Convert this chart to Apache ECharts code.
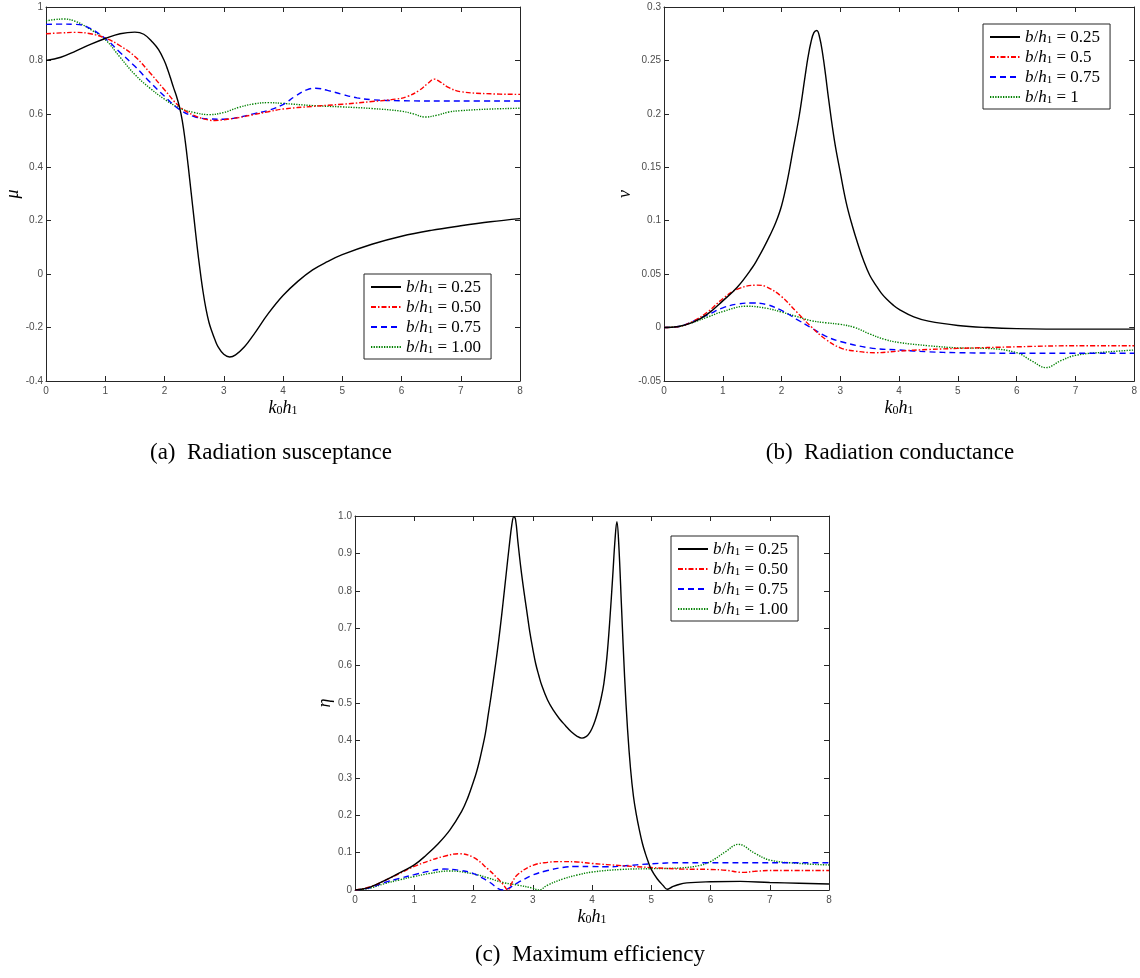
<!DOCTYPE html>
<html>
<head>
<meta charset="utf-8">
<script src="https://cdn.jsdelivr.net/npm/echarts@6/dist/echarts.min.js"></script>
<style>
  body { margin: 0; background: #fff; }
  #main { width: 1140px; height: 978px; }
</style>
</head>
<body>
<div id="main"></div>
<script>
// x axis ticks (k0 h1)
const kTicks = [0, 1, 2, 3, 4, 5, 6, 7, 8];

// (a) radiation susceptance mu, pairs of [k0h1, mu]
const muB025 = [[0,0.8],[0.25,0.812],[0.5,0.835],[0.75,0.86],[1,0.882],[1.25,0.9],[1.5,0.906],[1.65,0.898],[1.8,0.868],[1.9,0.84],[2,0.797],[2.05,0.768],[2.1,0.735],[2.15,0.7],[2.2,0.668],[2.25,0.628],[2.3,0.575],[2.35,0.498],[2.4,0.405],[2.45,0.305],[2.5,0.205],[2.55,0.105],[2.6,0.015],[2.65,-0.065],[2.7,-0.13],[2.75,-0.18],[2.8,-0.215],[2.85,-0.245],[2.9,-0.27],[3,-0.3],[3.1,-0.31],[3.2,-0.302],[3.35,-0.272],[3.5,-0.228],[3.75,-0.148],[4,-0.08],[4.25,-0.027],[4.5,0.016],[4.75,0.047],[5,0.073],[5.5,0.112],[6,0.142],[6.5,0.164],[7,0.181],[7.5,0.196],[8,0.208]];
const muB050 = [[0,0.9],[0.25,0.903],[0.5,0.905],[0.75,0.9],[1,0.884],[1.25,0.855],[1.5,0.815],[1.75,0.755],[2,0.69],[2.25,0.628],[2.5,0.594],[2.75,0.577],[2.85,0.575],[3,0.578],[3.25,0.586],[3.5,0.597],[3.75,0.608],[4,0.618],[4.5,0.628],[5,0.636],[5.5,0.646],[5.9,0.655],[6.1,0.665],[6.3,0.688],[6.45,0.715],[6.55,0.73],[6.65,0.72],[6.8,0.698],[7,0.683],[7.5,0.675],[8,0.673]];
const muB075 = [[0,0.935],[0.25,0.936],[0.5,0.935],[0.7,0.925],[1,0.882],[1.25,0.83],[1.5,0.778],[1.75,0.72],[2,0.666],[2.25,0.617],[2.5,0.59],[2.75,0.581],[3,0.58],[3.25,0.587],[3.5,0.6],[3.75,0.613],[4,0.635],[4.2,0.665],[4.4,0.69],[4.55,0.696],[4.75,0.688],[5,0.673],[5.25,0.66],[5.5,0.653],[6,0.649],[7,0.648],[8,0.648]];
const muB100 = [[0,0.948],[0.15,0.953],[0.3,0.955],[0.5,0.946],[0.75,0.916],[1,0.878],[1.25,0.812],[1.5,0.747],[1.75,0.697],[2,0.655],[2.25,0.622],[2.5,0.605],[2.75,0.597],[3,0.605],[3.25,0.624],[3.5,0.637],[3.75,0.642],[4,0.639],[4.5,0.631],[5,0.626],[5.5,0.62],[6,0.61],[6.2,0.6],[6.4,0.588],[6.6,0.595],[6.8,0.607],[7,0.612],[7.5,0.618],[8,0.621]];

// (b) radiation conductance nu
const nuB025 = [[0,0],[0.25,0.001],[0.5,0.005],[0.75,0.013],[1,0.025],[1.25,0.038],[1.5,0.056],[1.6,0.065],[1.7,0.075],[1.8,0.086],[1.9,0.098],[2,0.114],[2.1,0.138],[2.2,0.168],[2.3,0.198],[2.4,0.235],[2.45,0.253],[2.5,0.267],[2.55,0.276],[2.6,0.278],[2.65,0.271],[2.7,0.256],[2.75,0.236],[2.8,0.214],[2.9,0.175],[3,0.145],[3.1,0.117],[3.2,0.096],[3.3,0.078],[3.4,0.062],[3.5,0.049],[3.6,0.04],[3.7,0.032],[3.8,0.026],[3.9,0.021],[4,0.017],[4.25,0.01],[4.5,0.006],[5,0.002],[5.5,0],[6,-0.001],[7,-0.0015],[8,-0.0015]];
const nuB050 = [[0,0],[0.25,0.001],[0.5,0.006],[0.75,0.015],[1,0.027],[1.25,0.036],[1.58,0.0397],[1.75,0.038],[2,0.029],[2.25,0.015],[2.5,0.001],[2.75,-0.011],[3,-0.019],[3.25,-0.022],[3.6,-0.0235],[4,-0.022],[4.5,-0.0205],[5,-0.0195],[6,-0.018],[7,-0.017],[8,-0.017]];
const nuB075 = [[0,0],[0.25,0.001],[0.5,0.006],[0.75,0.012],[1,0.0185],[1.25,0.022],[1.5,0.023],[1.75,0.0215],[2,0.016],[2.25,0.008],[2.5,0],[2.75,-0.008],[3,-0.013],[3.5,-0.019],[4,-0.021],[4.5,-0.0227],[5,-0.0235],[6,-0.024],[7,-0.024],[8,-0.024]];
const nuB100 = [[0,0],[0.25,0.001],[0.5,0.005],[0.75,0.01],[1,0.015],[1.4,0.02],[1.75,0.018],[2,0.0145],[2.25,0.0105],[2.5,0.0065],[2.75,0.0045],[3,0.003],[3.25,0],[3.5,-0.006],[3.75,-0.011],[4,-0.014],[4.5,-0.017],[5,-0.019],[5.5,-0.0195],[6,-0.0235],[6.25,-0.031],[6.5,-0.0375],[6.75,-0.031],[7,-0.026],[7.5,-0.023],[8,-0.021]];

// (c) maximum efficiency eta
const etaB025 = [[0,0],[0.2,0.005],[0.4,0.018],[0.6,0.033],[0.8,0.05],[1,0.067],[1.2,0.093],[1.4,0.123],[1.6,0.16],[1.8,0.21],[1.9,0.245],[2,0.29],[2.05,0.315],[2.1,0.345],[2.15,0.38],[2.2,0.418],[2.25,0.47],[2.3,0.522],[2.35,0.578],[2.4,0.636],[2.45,0.7],[2.5,0.77],[2.55,0.843],[2.6,0.915],[2.65,0.98],[2.68,0.998],[2.71,0.99],[2.75,0.93],[2.8,0.86],[2.85,0.8],[2.9,0.745],[2.95,0.69],[3,0.645],[3.05,0.605],[3.1,0.575],[3.15,0.548],[3.25,0.508],[3.35,0.48],[3.45,0.458],[3.55,0.44],[3.65,0.423],[3.75,0.411],[3.83,0.406],[3.9,0.41],[3.95,0.418],[4,0.432],[4.05,0.452],[4.1,0.478],[4.15,0.51],[4.2,0.552],[4.25,0.62],[4.3,0.72],[4.35,0.84],[4.39,0.94],[4.42,0.985],[4.45,0.93],[4.5,0.75],[4.55,0.57],[4.6,0.43],[4.65,0.325],[4.7,0.25],[4.75,0.2],[4.8,0.16],[4.85,0.125],[4.9,0.098],[4.95,0.075],[5,0.055],[5.1,0.03],[5.2,0.012],[5.27,0.002],[5.35,0.008],[5.45,0.014],[5.6,0.019],[6,0.022],[6.5,0.023],[7,0.02],[7.5,0.018],[8,0.016]];
const etaB050 = [[0,0],[0.25,0.008],[0.5,0.025],[0.75,0.044],[1,0.063],[1.25,0.078],[1.5,0.09],[1.75,0.097],[2,0.087],[2.25,0.055],[2.4,0.032],[2.5,0.015],[2.58,0],[2.65,0.02],[2.75,0.042],[3,0.066],[3.25,0.074],[3.5,0.076],[3.75,0.075],[4,0.071],[4.5,0.065],[5,0.06],[5.5,0.056],[6,0.055],[6.25,0.053],[6.55,0.047],[6.75,0.05],[7,0.052],[8,0.052]];
const etaB075 = [[0,0],[0.25,0.006],[0.5,0.02],[0.75,0.031],[1,0.041],[1.25,0.05],[1.5,0.056],[1.75,0.053],[2,0.044],[2.25,0.023],[2.5,0],[2.75,0.02],[3,0.04],[3.25,0.052],[3.5,0.06],[3.75,0.063],[4,0.063],[4.25,0.062],[4.5,0.064],[5,0.07],[5.5,0.073],[6,0.073],[7,0.073],[8,0.073]];
const etaB100 = [[0,0],[0.25,0.005],[0.5,0.017],[0.75,0.027],[1,0.036],[1.25,0.044],[1.6,0.051],[2,0.043],[2.25,0.032],[2.5,0.02],[2.75,0.013],[3,0.005],[3.1,0],[3.25,0.013],[3.5,0.029],[3.75,0.04],[4,0.048],[4.5,0.055],[5,0.057],[5.5,0.059],[5.8,0.065],[6,0.076],[6.25,0.102],[6.47,0.122],[6.75,0.098],[7,0.08],[7.5,0.071],[8,0.067]];

// legend labels
const labelsA = ["0.25", "0.50", "0.75", "1.00"];
const labelsB = ["0.25", "0.5", "0.75", "1"];
const labelsC = ["0.25", "0.50", "0.75", "1.00"];

const axisColor = "#262626";
const tickColor = "#4d4d4d";
const serif = "'Liberation Serif', 'DejaVu Serif', serif";

const styles = [
  { color: "#000000", type: "solid" },
  { color: "#ff0000", type: [5, 2, 1.5, 2] },
  { color: "#0000ff", type: [6, 4] },
  { color: "#008000", type: [1.3, 1.3] },
];

const mathRich = {
  i: { fontFamily: serif, fontStyle: "italic", fontSize: 18, color: "#000", lineHeight: 20, verticalAlign: "bottom" },
  s: { fontFamily: serif, fontSize: 12, color: "#000", lineHeight: 12, padding: [8, 0, 0, 0], verticalAlign: "bottom" },
};

const legendRich = {
  t: { fontFamily: serif, fontSize: 17, color: "#000", lineHeight: 18, verticalAlign: "bottom" },
  i: { fontFamily: serif, fontStyle: "italic", fontSize: 17, color: "#000", lineHeight: 18, verticalAlign: "bottom" },
  s: { fontFamily: serif, fontSize: 11, color: "#000", lineHeight: 11, padding: [8, 0, 0, 0], verticalAlign: "bottom" },
};

const grids = [
  { left: 46, top: 7, width: 474, height: 374 },
  { left: 664, top: 7, width: 474, height: 374 },
  { left: 355, top: 516, width: 474, height: 374 },
];

const yRanges = [
  { min: -0.4, max: 1, interval: 0.2, name: "μ", gap: 24, fmt: (v) => String(+v.toFixed(2)) },
  { min: -0.05, max: 0.3, interval: 0.05, name: "ν", gap: 29, fmt: (v) => String(+v.toFixed(2)) },
  { min: 0, max: 1, interval: 0.1, name: "η", gap: 21, fmt: (v) => (v === 0 ? "0" : v.toFixed(1)) },
];

const xAxes = [];
const yAxes = [];
grids.forEach((g, i) => {
  xAxes.push({
    type: "value",
    gridIndex: i,
    min: kTicks[0],
    max: kTicks[kTicks.length - 1],
    interval: 1,
    name: "{i|k}{s|0}{i|h}{s|1}",
    nameLocation: "middle",
    nameGap: 15,
    nameTextStyle: { rich: mathRich },
    axisLine: { onZero: false, lineStyle: { color: axisColor, width: 1 } },
    axisTick: { inside: true, length: 5, lineStyle: { color: axisColor } },
    axisLabel: { color: tickColor, fontSize: 10, fontFamily: "'Liberation Sans', Arial, sans-serif", margin: 5 },
    splitLine: { show: false },
  });
  const r = yRanges[i];
  yAxes.push({
    type: "value",
    gridIndex: i,
    min: r.min,
    max: r.max,
    interval: r.interval,
    name: r.name,
    nameLocation: "middle",
    nameGap: r.gap,
    nameRotate: 90,
    nameTextStyle: { fontFamily: serif, fontStyle: "italic", fontSize: 18, color: "#000" },
    axisLine: { onZero: false, lineStyle: { color: axisColor, width: 1 } },
    axisTick: { inside: true, length: 5, lineStyle: { color: axisColor } },
    axisLabel: { color: tickColor, fontSize: 10, fontFamily: "'Liberation Sans', Arial, sans-serif", margin: 3, formatter: r.fmt },
    splitLine: { show: false },
  });
});
// mirror axes: top and right, ticks only
grids.forEach((g, i) => {
  xAxes.push({
    type: "value", gridIndex: i, position: "top",
    min: kTicks[0], max: kTicks[kTicks.length - 1], interval: 1,
    axisLine: { onZero: false, lineStyle: { color: axisColor, width: 1 } },
    axisTick: { inside: true, length: 5, lineStyle: { color: axisColor } },
    axisLabel: { show: false },
    splitLine: { show: false },
  });
  const r = yRanges[i];
  yAxes.push({
    type: "value", gridIndex: i, position: "right",
    min: r.min, max: r.max, interval: r.interval,
    axisLine: { show: true, onZero: false, lineStyle: { color: axisColor, width: 1 } },
    axisTick: { show: true, inside: true, length: 5, lineStyle: { color: axisColor } },
    axisLabel: { show: false },
    splitLine: { show: false },
  });
});

const chartData = [
  { tag: "a", sets: [muB025, muB050, muB075, muB100], labels: labelsA },
  { tag: "b", sets: [nuB025, nuB050, nuB075, nuB100], labels: labelsB },
  { tag: "c", sets: [etaB025, etaB050, etaB075, etaB100], labels: labelsC },
];

const series = [];
chartData.forEach((c, i) => {
  c.sets.forEach((d, j) => {
    series.push({
      name: c.tag + " " + c.labels[j],
      type: "line",
      xAxisIndex: i,
      yAxisIndex: i,
      data: d,
      symbol: "none",
      smooth: 0.4,
      animation: false,
      lineStyle: { color: styles[j].color, type: styles[j].type, width: 1.4 },
      itemStyle: { color: styles[j].color },
      z: 10 - j,
    });
  });
});

const legendPos = [
  { left: 364, top: 274 },
  { left: 983, top: 24 },
  { left: 671, top: 536 },
];

const legends = chartData.map((c, i) => ({
  orient: "vertical",
  left: legendPos[i].left,
  top: legendPos[i].top,
  data: c.labels.map((l) => c.tag + " " + l),
  itemWidth: 30,
  itemHeight: 10,
  itemGap: 1,
  padding: [3, 10, 3, 6],
  borderColor: axisColor,
  borderWidth: 1,
  backgroundColor: "#fff",
  selectedMode: false,
  itemStyle: { opacity: 0 },
  formatter: (name) => "{i|b}{t|/}{i|h}{s|1}{t| = " + name.split(" ")[1] + "}",
  textStyle: { rich: legendRich, padding: [0, 0, 0, 0] },
}));

const captionFont = "23px 'Liberation Serif', serif";
const captions = [
  { x: 271, y: 453, text: "(a)  Radiation susceptance" },
  { x: 890, y: 453, text: "(b)  Radiation conductance" },
  { x: 590, y: 955, text: "(c)  Maximum efficiency" },
];

const chart = echarts.init(document.getElementById("main"), null, { renderer: "canvas" });
chart.setOption({
  backgroundColor: "#fff",
  animation: false,
  grid: grids,
  xAxis: xAxes,
  yAxis: yAxes,
  legend: legends,
  series: series,
  graphic: captions.map((c) => ({
    type: "text",
    x: c.x,
    y: c.y,
    style: {
      text: c.text,
      font: captionFont,
      fill: "#000",
      align: "center",
      verticalAlign: "middle",
      textAlign: "center",
      textVerticalAlign: "middle",
    },
  })),
});
</script>
</body>
</html>
